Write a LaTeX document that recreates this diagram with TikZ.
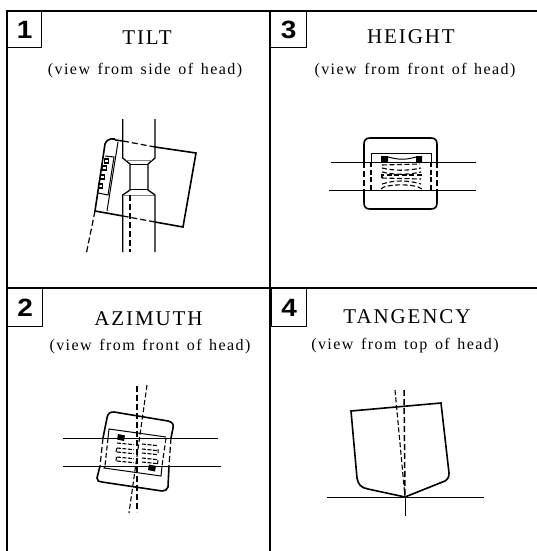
\documentclass[tikz,border=0pt]{standalone}
\usepackage{fontspec}
\setmainfont{Liberation Serif}
\newfontfamily\titlef[LetterSpace=9]{Liberation Serif}
\newfontfamily\subf[LetterSpace=9,WordSpace=1.4]{Liberation Serif}
\newfontfamily\numf[FakeStretch=1.12]{Liberation Sans Bold}
\tikzset{
 frameline/.style={line width=2pt,black},
 heavy/.style={line width=1.6pt,black},
 medium/.style={line width=1.3pt,black},
 thin line/.style={line width=1pt,black},
 dashline/.style={line width=1.2pt,black,dash pattern=on 6pt off 3pt},
 dashthin/.style={line width=1.1pt,black,dash pattern=on 5pt off 2.5pt},
 numbox/.style={draw,line width=1.2pt,minimum width=34pt,minimum height=36pt,inner sep=0pt,anchor=north west,font=\numf\fontsize{25}{25}\selectfont},
 titletext/.style={font=\titlef\fontsize{21}{21}\selectfont,inner sep=0pt},
 subtext/.style={font=\subf\fontsize{16}{16}\selectfont,inner sep=0pt}
}
\begin{document}
\begin{tikzpicture}[x=1pt,y=-1pt]
\useasboundingbox (0,0) rectangle (537,551);
% frame
\draw[frameline] (7,551) -- (7,11) -- (537,11);
\draw[frameline] (270,11) -- (270,551);
\draw[frameline] (7,288) -- (537,288);
\node[numbox] (n1) at (7,11) {1};
\node[numbox,minimum width=36pt] (n3) at (270,11) {3};
\node[numbox,minimum height=38pt,minimum width=35pt] (n2) at (7,288) {2};
\node[numbox,minimum height=38pt,minimum width=35pt] (n4) at (271,288) {4};
\node[titletext] (t1) at (147,38) {TILT};
\node[subtext] (s1) at (145,71) {(view from side of head)};
\node[titletext] (t3) at (411,37) {HEIGHT};
\node[subtext] (s3) at (415,71) {(view from front of head)};
\node[titletext] (t2) at (148.5,319) {AZIMUTH};
\node[subtext] (s2) at (150,347) {(view from front of head)};
\node[titletext] (t4) at (407,317) {TANGENCY};
\node[subtext] (s4) at (405,346) {(view from top of head)};
% ---- panel 1
\draw[heavy] (115,140) -- (123,141);
\draw[dashline] (123,141) -- (155,147);
\draw[heavy] (155,147) -- (196,153) -- (183,227) -- (155,222);
\draw[dashline] (155,222) -- (123,216);
\draw[heavy] (123,216) -- (95,211) -- (105,144) .. controls (106,141) and (109,138) .. (115,139);
\draw[dashline] (95,211) -- (86,255);
\draw[thin line] (118,142) -- (107,211);
\draw[thin line] (105,156) -- (114,157) -- (108,195) -- (98,193);
\foreach \a/\b in {104.7/159,102.3/166,100.7/175,98.7/184}{\draw[medium] (\a,\b) rectangle ++(4,4);}
\draw[medium] (122.7,119) -- (122.7,158) -- (130,164) -- (130,190) -- (122.7,195) -- (122.7,252);
\draw[medium] (155,119) -- (155,158) -- (148,164) -- (148,190) -- (155,195) -- (155,252);
\draw[thin line] (130,164) -- (148,164) (130,189) -- (148,189);
\draw[thin line,gray] (124,195) -- (154,195);
\draw[thin line,gray] (126,160) -- (152,160);
\draw[dashline] (130,195) -- (130,252);
% ---- panel 3
\draw[thin line] (331,162) -- (476,162);
\draw[thin line] (329,190) -- (476,190);
\draw[heavy] (364,162) -- (364,144) .. controls (364,140) and (366,138) .. (370,138) -- (431,138) .. controls (435,138) and (437,140) .. (437,144) -- (437,162);
\draw[heavy] (364,190) -- (364,203) .. controls (364,207) and (366,209) .. (370,209) -- (431,209) .. controls (435,209) and (437,207) .. (437,203) -- (437,190);
\draw[dashline] (364,162) -- (364,190) (437,162) -- (437,190);
\draw[thin line] (371,162) -- (371,153) -- (431,153) -- (431,162);
\draw[dashthin] (371,162) -- (371,190) (431,162) -- (431,190);
\fill (381,156) rectangle (388,162) (416,156) rectangle (422,162);
\draw[thin line] (388,157) .. controls (400,160) and (405,160) .. (416,157);
\draw[dashthin] (382,165) -- (420,164);
\draw[dashthin] (382,168) .. controls (395,171) and (407,171) .. (421,168);
\draw[dashthin] (382,172) .. controls (395,175) and (407,175) .. (421,172);
\draw[dashthin] (382,178) -- (382,175) -- (421,175) -- (421,178);
\draw[dashthin] (382,178) -- (421,179);
\draw[dashthin] (382,184) .. controls (395,180) and (407,180) .. (421,184);
\draw[dashthin] (381,189) .. controls (384,184) and (415,183) .. (422,189);
% ---- panel 2
\draw[thin line] (63,438) -- (218,438);
\draw[thin line] (63,466) -- (221,466);
\draw[heavy] (103,438) -- (107,418) .. controls (108,413) and (110,412) .. (114,412) -- (168,421) .. controls (172,422) and (174,424) .. (173,428) -- (171,438);
\draw[heavy] (100,466) -- (97,478) .. controls (97,481) and (99,482) .. (102,482) -- (162,491) .. controls (165,491) and (167,490) .. (168,487) -- (169,466);
\draw[dashline] (103,438) -- (100,466) (171,438) -- (169,466);
\draw[thin line] (108,438) -- (109,429) -- (166,437);
\draw[thin line] (105,466) -- (104,468) -- (161,476) -- (162,466);
\draw[dashthin] (108,438) -- (105,466) (166,438) -- (162,466);
\fill (118,434) -- (125,435.5) -- (124,441) -- (117,439.5) -- cycle;
\fill (149,464.5) -- (156,466) -- (155,471.5) -- (148,470) -- cycle;
\foreach \y in {443,448,452,457,461}{\draw[dashthin,dash pattern=on 4pt off 1.5pt] (117,\y) -- (134,\y+1.7);}
\foreach \y in {444,449,453,458,462}{\draw[dashthin,dash pattern=on 4pt off 1.5pt] (142,\y) -- (158,\y+1.7);}
\draw[thin line] (117,448) -- (116,452) (116.5,457) -- (116,461) (158,449) -- (158,453) (158,460) -- (157.5,464);
\draw[dashline,line width=1.5pt] (137,386) -- (137,512);
\draw[dashthin] (147,385) -- (129,513);
% ---- panel 4
\draw[thin line] (327,497) -- (484,497);
\draw[thin line] (405,497) -- (405,516);
\draw[heavy] (351,411) -- (441,403) -- (449,473) .. controls (449,477) and (448,479) .. (445,481) -- (405,497) -- (368,489) .. controls (361,488) and (358,484) .. (357,478) -- cycle;
\draw[dashline,line width=1.5pt] (404,390) -- (405,497);
\draw[dashthin] (395,390) -- (405,497);
\end{tikzpicture}
\end{document}
